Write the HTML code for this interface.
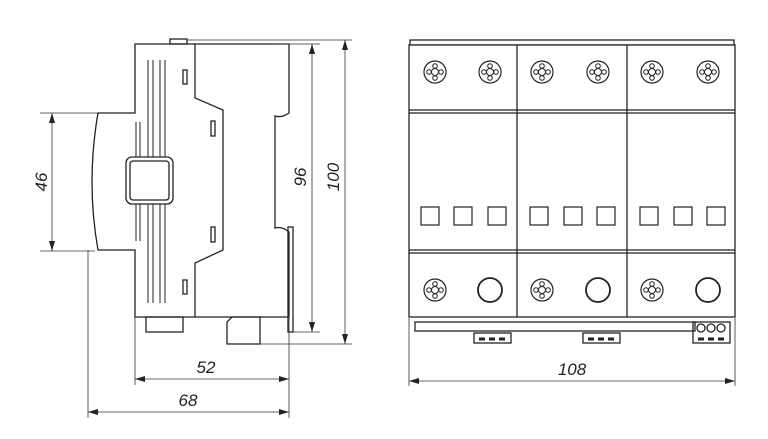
<!DOCTYPE html>
<html><head><meta charset="utf-8"><style>
html,body{margin:0;padding:0;background:#fff;}
svg{display:block}
text{font-family:"Liberation Sans",sans-serif;font-style:italic;font-size:17px;fill:#222}
</style></head><body>
<svg width="768" height="439" viewBox="0 0 768 439" xmlns="http://www.w3.org/2000/svg">
<defs>
<marker id="a" viewBox="0 0 10 6" refX="10" refY="3" markerWidth="10" markerHeight="6" orient="auto-start-reverse" markerUnits="userSpaceOnUse"><path d="M0,0 L10,3 L0,6 z" fill="#222"/></marker>
<g id="scr"><circle r="11" fill="none" stroke="#222" stroke-width="1.2"/><circle r="3.5" fill="none" stroke="#222"/><circle cx="0" cy="-6" r="2.3" fill="none" stroke="#222"/><circle cx="6" cy="0" r="2.3" fill="none" stroke="#222"/><circle cx="0" cy="6" r="2.3" fill="none" stroke="#222"/><circle cx="-6" cy="0" r="2.3" fill="none" stroke="#222"/></g>
</defs>
<g fill="none" stroke="#222" stroke-width="1.3">
<path d="M135,44 H289 V113 Q282,118 275,116 V228 Q282,226 289,232 V317 H135 V250 H98 Q86,182 98,113 H135 Z" fill="#fff"/>
<path d="M195,44 V98 L223,110 V250 L195,263 V317"/>
<rect x="170" y="39" width="17" height="5"/>
<rect x="146" y="317" width="37" height="15"/>
<path d="M227,344 V322 L232,317 H260 V344 Z"/>
<rect x="288" y="227" width="5" height="105"/>
<rect x="126" y="157" width="47" height="47" rx="6"/>
<rect x="130" y="161" width="39" height="39" rx="3"/>
<path d="M148,60 V157 M153,60 V157 M160,60 V157 M165,60 V157 M148,204 V303 M153,204 V303 M160,204 V303 M165,204 V303 M136,122 V157 M140,122 V157 M136,204 V241 M140,204 V241" stroke-width="1"/>
<rect x="183" y="70" width="4" height="14"/><rect x="211" y="121" width="4" height="15"/><rect x="211" y="227" width="4" height="15"/><rect x="183" y="280" width="4" height="14"/>
<rect x="410" y="40" width="324" height="5"/>
<rect x="409" y="45" width="326" height="272" fill="#fff"/>
<path d="M517,45 V317 M627,45 V317 M409,110 H735 M409,113 H735 M409,250 H735 M409,253 H735"/>
<rect x="415" y="322" width="280" height="9"/>
<rect x="474" y="333" width="37" height="10"/><rect x="583" y="333" width="37" height="10"/><rect x="693" y="322" width="37" height="21"/>
<path d="M479,339 h6 M489,339 h6 M499,339 h6 M588,339 h6 M598,339 h6 M608,339 h6 M698,339 h6 M708,339 h6 M718,339 h6" stroke-width="3"/>
<circle cx="701" cy="328" r="4"/><circle cx="711" cy="328" r="4"/><circle cx="721" cy="328" r="4"/>
<g stroke-width="1.2">
<rect x="421" y="207" width="18" height="18"/><rect x="454" y="207" width="18" height="18"/><rect x="488" y="207" width="18" height="18"/>
<rect x="530" y="207" width="18" height="18"/><rect x="564" y="207" width="18" height="18"/><rect x="597" y="207" width="18" height="18"/>
<rect x="640" y="207" width="18" height="18"/><rect x="674" y="207" width="18" height="18"/><rect x="707" y="207" width="18" height="18"/>
</g>
<circle cx="490" cy="290" r="12" stroke-width="1.8"/><circle cx="598" cy="290" r="12" stroke-width="1.8"/><circle cx="708" cy="290" r="12" stroke-width="1.8"/>
</g>
<g>
<use href="#scr" x="435" y="72"/><use href="#scr" x="490" y="72"/><use href="#scr" x="542" y="72"/><use href="#scr" x="598" y="72"/><use href="#scr" x="652" y="72"/><use href="#scr" x="708" y="72"/>
<use href="#scr" x="435" y="290"/><use href="#scr" x="542" y="290"/><use href="#scr" x="652" y="290"/>
</g>
<g stroke="#333" stroke-width="0.8" fill="none">
<path d="M40,113 H98 M40,251 H95 M187,40 H352 M275,44 H320 M293,332 H320 M260,344 H352 M135,317 V385 M88,250 V418 M289,317 V418 M409,318 V386 M735,318 V386"/>
<line x1="52" y1="113" x2="52" y2="251" marker-start="url(#a)" marker-end="url(#a)"/>
<line x1="312" y1="44" x2="312" y2="332" marker-start="url(#a)" marker-end="url(#a)"/>
<line x1="345" y1="40" x2="345" y2="344" marker-start="url(#a)" marker-end="url(#a)"/>
<line x1="135" y1="379" x2="289" y2="379" marker-start="url(#a)" marker-end="url(#a)"/>
<line x1="88" y1="412" x2="289" y2="412" marker-start="url(#a)" marker-end="url(#a)"/>
<line x1="409" y1="381" x2="735" y2="381" marker-start="url(#a)" marker-end="url(#a)"/>
</g>
<text transform="translate(47,182) rotate(-90)" text-anchor="middle">46</text>
<text transform="translate(306,177) rotate(-90)" text-anchor="middle">96</text>
<text transform="translate(339,177) rotate(-90)" text-anchor="middle">100</text>
<text x="206" y="373" text-anchor="middle">52</text>
<text x="188" y="406" text-anchor="middle">68</text>
<text x="572" y="375" text-anchor="middle">108</text>
</svg>
</body></html>
